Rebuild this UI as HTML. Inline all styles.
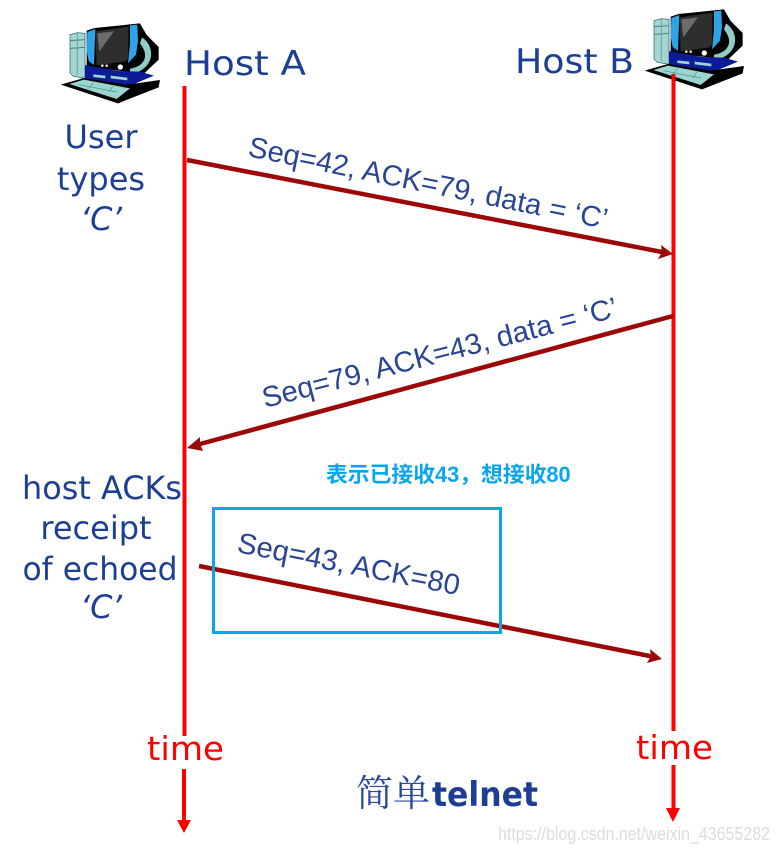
<!DOCTYPE html>
<html><head><meta charset="utf-8"><style>
html,body{margin:0;padding:0;background:#fff}
svg{display:block}
.c{font-family:"DejaVu Sans","Liberation Sans",sans-serif;fill:#1c3f94}
.s{font-family:"Liberation Sans",sans-serif;fill:#2a4494;font-size:29px}
.t{font-family:"DejaVu Sans",sans-serif;fill:#f00;font-size:33px}
</style></head><body>
<svg width="778" height="851" viewBox="0 0 778 851" xmlns="http://www.w3.org/2000/svg">
<defs>
<g id="pc" transform="scale(0.3333)">
<path d="M90 74l22-6 23 2v135l-35-6-10-10z" fill="#a3d6d2" stroke="#2c5654" stroke-width="2"/>
<path d="M90 92l45-3M90 115l45-3" stroke="#4c7f7c" stroke-width="3"/>
<path d="M112 70v125" stroke="#6fa5a1" stroke-width="3"/>
<path d="M140 62l24-8 136-14 20 35 36 36v38l-44 42-172-20z" fill="#000"/>
<path d="M142 66l24-9-4 108-16-12-6-30z" fill="#2fa3e8"/>
<path d="M270 46l22-2 2 50-6 40-24 26 6-60z" fill="#2fa3e8"/>
<path d="M166 64l100-14-2 96-8 8-86 12z" fill="#2e2e2e"/>
<path d="M172 70l50-6-44 60z" fill="#6c6c6c"/>
<path d="M306 82c34 22 42 76-8 102l-28 6v-14c40-6 62-36 30-76z" fill="#8fcdc7"/>
<path d="M135 165l40 8 60 10 65 2 42 12-72 30-135-22z" fill="#0b1c96"/>
<path d="M62 224l70-20 128 20 100-14-4 22-122 48z" fill="#000"/>
<path d="M88 222l44-13 138 26-40 32z" fill="#9ad6cf"/>
<path d="M118 224l112 22M160 218l-14 18M218 228l-10 18" stroke="#4f8f89" stroke-width="2"/>
<path d="M160 193l36 4v8l-36-4zM212 197l50 6v8l-50-6z" fill="#9ad6cf"/>
<circle cx="241" cy="171" r="8" fill="#fff"/><circle cx="187" cy="167" r="4" fill="#ddd"/><circle cx="200" cy="167" r="4" fill="#ddd"/>
</g>
</defs>
<g transform="translate(40 10)"><use href="#pc"/></g>
<g transform="translate(624 -4)"><use href="#pc"/></g>

<text class="c" x="184" y="75" font-size="34" textLength="122" lengthAdjust="spacingAndGlyphs">Host A</text>
<text class="c" x="515" y="73" font-size="34" textLength="119" lengthAdjust="spacingAndGlyphs">Host B</text>

<g class="c" font-size="32" text-anchor="middle">
<text x="101" y="148">User</text>
<text x="101" y="190">types</text>
<text x="101" y="230" font-style="italic">‘C’</text>
<text x="102" y="499" textLength="160" lengthAdjust="spacingAndGlyphs">host ACKs</text>
<text x="96" y="539">receipt</text>
<text x="100" y="580" textLength="155" lengthAdjust="spacingAndGlyphs">of echoed</text>
<text x="101" y="618" font-style="italic">‘C’</text>
</g>

<g stroke="#f00" stroke-width="4" fill="none">
<path d="M184.500 86V736M184 769V822"/>
<path d="M673.500 74V731M673.500 765V810"/>
</g>
<path d="M177 820h14l-7 13zM666 808h14l-7 14z" fill="#f00"/>
<text class="t" x="147" y="760" textLength="77" lengthAdjust="spacingAndGlyphs">time</text>
<text class="t" x="636" y="759" textLength="77" lengthAdjust="spacingAndGlyphs">time</text>

<g stroke="#9c0808" stroke-width="4.500" fill="none">
<path d="M187 160L662 252"/>
<path d="M673 316L200 444"/>
<path d="M199 566L652 656.500"/>
</g>
<path d="M673 254L661 245L662 252L658 259z M187 448L200 437L200 444L203 451z M662 659L650 649L651 656L647 663z" fill="#9c0808"/>

<text class="s" transform="translate(247 156) rotate(11.500)" textLength="366" lengthAdjust="spacingAndGlyphs">Seq=42, ACK=79, data = ‘C’</text>
<text class="s" transform="translate(265 408) rotate(-14.500)" textLength="366" lengthAdjust="spacingAndGlyphs">Seq=79, ACK=43, data = ‘C’</text>
<text class="s" transform="translate(236 552) rotate(11)" textLength="226" lengthAdjust="spacingAndGlyphs">Seq=43, ACK=80</text>

<rect x="213.500" y="508.500" width="287" height="124" fill="none" stroke="#0aa6ec" stroke-width="3"/>
<text x="326" y="482" font-family="'Liberation Sans','Noto Sans CJK SC',sans-serif" font-weight="700" font-size="21.800" fill="#0aa6ec">表示已接收43，想接收80</text>

<text x="356" y="806" font-family="'Noto Serif CJK SC','Noto Sans CJK SC',serif" font-size="37" fill="#2a4a9c">简单</text>
<text class="c" x="432" y="806" font-size="34" font-weight="700" textLength="106" lengthAdjust="spacingAndGlyphs">telnet</text>
<text x="498" y="840" font-family="'Liberation Sans',sans-serif" font-size="18" fill="#dcdcdc" textLength="272" lengthAdjust="spacingAndGlyphs">https://blog.csdn.net/weixin_43655282</text>
</svg>
</body></html>
